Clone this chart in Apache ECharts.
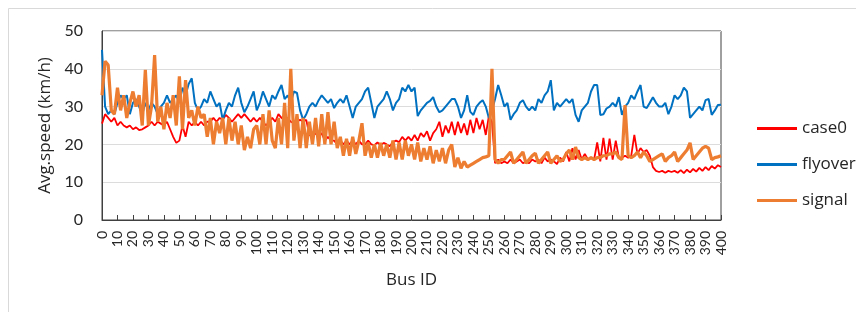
<!DOCTYPE html>
<html>
<head>
<meta charset="utf-8">
<script src="https://cdn.jsdelivr.net/npm/echarts@6/dist/echarts.min.js"></script>
<style>
  html, body { margin: 0; padding: 0; background: #fff; }
  #chart { width: 856px; height: 312px; }
</style>
</head>
<body>
<div id="chart"></div>
<script>
// Bus IDs sampled every 2 (0..400)
var busIds = [];
for (var i = 0; i <= 400; i += 2) busIds.push(String(i));

var case0 = [
  25.5, 28, 27, 26, 27,   25, 26, 25, 24.5, 25,   24, 24.5, 23.8, 24, 24.5,   25, 26, 25, 26, 25.5,
  25, 26, 24, 22, 20.4,   21, 25, 22, 26, 25,   26, 25, 26, 25, 26,   26, 27, 26, 27, 26.5,
  27.8, 27, 26, 27, 28,   27, 28, 27, 26, 27,   26, 27, 26, 25, 26,   27, 26, 28, 27, 26.5,
  27, 26, 25.6, 26, 26.5,   26, 26.5, 22.5, 22, 23,   22, 23, 21, 22, 21,   21, 20, 21, 20, 21,
  20, 21, 20, 21, 20,   20, 21, 20, 19.8, 20.5,   19.8, 20.4, 20, 19.5, 20.6,   21, 20.6, 22, 21, 22,
  21, 22.5, 21, 23, 22,   23.5, 21, 23, 24, 26,   22, 25, 23, 26, 22.5,   26, 23, 25.5, 22.5, 26.5,
  23, 27, 24, 26.5, 22.5,   27.5, 26, 15, 16, 15,   15.5, 15, 16, 15, 15.5,   16, 15, 15.5, 15, 16,
  15.5, 16, 15, 16.5, 15.5,   16, 15.5, 14.8, 16.5, 15.5,   18, 15.5, 19, 16, 18.5,   16, 17.5, 16, 16.5, 16,
  20.5, 15.5, 21.7, 16, 21.5,   16, 21, 16.5, 16.5, 17,   16.5, 17, 22.5, 17.5, 19,   18, 18.5, 17, 14, 13,
  12.7, 13, 12.5, 13, 12.7,   13, 12.5, 13.2, 12.4, 13.3,   12.6, 13.5, 12.8, 13.8, 13,   14, 13.2, 14.3, 13.6, 14.5,
  14
];

var flyover = [
  45, 30, 28, 29, 28,   31, 33, 32, 33, 28,   31, 32, 30, 28, 31,   29, 31, 30, 28, 30,
  31, 33, 31, 32, 33,   31, 35, 33, 36, 37.5,   31, 29, 30, 32, 31,   34, 32, 30, 31, 26.5,
  29, 31, 30, 33, 35,   31, 28.5, 30, 32, 34,   29, 31, 34, 32, 30,   33, 32, 34, 35.7, 32,
  33, 31, 34, 33.6, 29,   26.5, 28, 30, 31, 30,   31.7, 33, 32, 31, 32,   29.6, 31, 32, 31, 33,
  30, 27, 30, 31, 32,   34, 35, 31, 27, 30,   31, 32, 34, 32, 29,   31, 32, 35, 34, 35.7,
  34, 35, 27.5, 29, 30,   31, 31.5, 32.5, 30, 28.5,   29, 30, 31, 32, 32,   30, 27, 29, 33, 28.6,
  27.8, 30, 31, 31.7, 30,   27, 29, 32, 35.7, 33,   30, 31, 26.5, 28, 29,   31, 31.7, 30, 29, 30,
  29, 32, 31, 33, 34,   37, 29, 31, 30, 31,   32, 31, 32, 27.8, 26,   29, 30, 31, 34, 35.7,
  35.7, 27.8, 28, 29.5, 30,   31, 30, 32.5, 27.8, 30,   31, 33, 32, 34, 35.7,   30, 29.6, 31, 32.5, 31,
  30, 30, 31, 28, 30,   33, 32, 33, 35, 34,   27, 28, 29, 30, 29,   31.7, 32, 27.8, 29, 30.4,
  30.5
];

var signal = [
  33, 42, 41, 29, 28,   35, 29, 33, 27, 31,   34, 30, 33, 25, 39.7,   25, 30, 43.6, 26, 30,
  24, 31, 27, 33, 25,   38, 24, 37, 27, 29,   25, 30, 27, 28, 22,   27, 20, 26, 23, 27,
  20, 27, 21, 26, 20,   25, 18.5, 22, 19, 24,   25, 20, 28, 20, 29,   21, 19, 27, 20, 31,
  19, 40, 21, 28, 19,   27, 19, 26, 20, 27,   19.5, 28, 20, 28.5, 20,   26, 19, 22, 17, 21.5,
  17, 22, 17.5, 21, 25.6,   17, 20.5, 16.5, 20, 16.5,   20.4, 17, 20, 16.5, 21,   16, 20.5, 16, 21, 17,
  20, 16, 20.5, 15.5, 19,   16, 19.5, 15, 18.5, 15.5,   19, 15, 18.5, 20, 14,   16.5, 13.7, 15.5, 14, 14.5,
  15, 15.5, 16, 16.5, 16.7,   17, 40, 16, 15, 16,   16, 17, 18, 15, 16,   17, 18, 15, 16, 17,
  17.7, 15, 16, 17, 18,   15, 16, 17, 15.5, 16,   17.5, 18.5, 16, 19.3, 16.5,   16, 16.5, 16, 16.5, 16,
  16.5, 16.5, 17, 17, 17.5,   17.5, 18, 16.5, 16, 30.4,   17, 16.5, 17, 18, 16.5,   18, 17, 15.5, 16, 16.5,
  17, 17.5, 15.5, 16.5, 17,   18, 15.5, 16.5, 17.5, 18.5,   20.4, 16, 17, 18, 19,   19.5, 19, 16, 16.5, 16.7,
  17
];

var yTicks = [0, 10, 20, 30, 40, 50];

var myChart = echarts.init(document.getElementById('chart'));
var font = '"Open Sans", Lato, sans-serif';
var textColor = '#262626';

var option = {
  animation: false,
  textStyle: { fontFamily: font },
  graphic: [{
    type: 'rect',
    shape: { x: 8.5, y: 8.5, width: 870, height: 330 },
    style: { fill: 'none', stroke: '#d9d9d9', lineWidth: 1 },
    silent: true
  }],
  grid: {
    left: 102, right: 135, top: 31, bottom: 92,
    show: true, borderColor: '#404040', borderWidth: 1
  },
  legend: {
    orient: 'vertical',
    left: 752, top: 115,
    icon: 'rect',
    itemWidth: 40, itemHeight: 3, itemGap: 19,
    textStyle: { fontFamily: font, fontSize: 17, color: textColor },
    data: ['case0', 'flyover', 'signal']
  },
  xAxis: {
    type: 'category',
    data: busIds,
    boundaryGap: false,
    name: 'Bus ID',
    nameLocation: 'middle',
    nameGap: 52,
    nameTextStyle: { fontFamily: font, fontSize: 17, color: textColor },
    axisLine: { lineStyle: { color: '#404040' } },
    axisTick: { interval: 4, inside: true, length: 5, lineStyle: { color: '#404040' } },
    axisLabel: { interval: 4, rotate: 90, fontSize: 14, color: textColor, margin: 11, fontFamily: 'Lato, sans-serif' },
    splitLine: { show: false }
  },
  yAxis: {
    type: 'value',
    min: yTicks[0], max: yTicks[yTicks.length - 1], interval: 10,
    name: 'Avg.speed (km/h)',
    nameLocation: 'middle',
    nameGap: 44,
    nameTextStyle: { fontFamily: font, fontSize: 17, color: textColor },
    axisLine: { show: true, lineStyle: { color: '#404040' } },
    axisTick: { show: false },
    axisLabel: { fontSize: 16, color: textColor, margin: 19, fontFamily: 'Lato, sans-serif' },
    splitLine: { lineStyle: { color: '#dcdcdc' } }
  },
  series: [{
    name: 'case0', type: 'line', data: case0,
    symbol: 'none', lineStyle: { color: '#ff0000', width: 1.8 }, itemStyle: { color: '#ff0000' }
  }, {
    name: 'flyover', type: 'line', data: flyover,
    symbol: 'none', lineStyle: { color: '#0070c0', width: 2 }, itemStyle: { color: '#0070c0' }
  }, {
    name: 'signal', type: 'line', data: signal,
    symbol: 'none', lineStyle: { color: '#ed7d31', width: 3.2 }, itemStyle: { color: '#ed7d31' }
  }]
};
myChart.setOption(option);
</script>
</body>
</html>
